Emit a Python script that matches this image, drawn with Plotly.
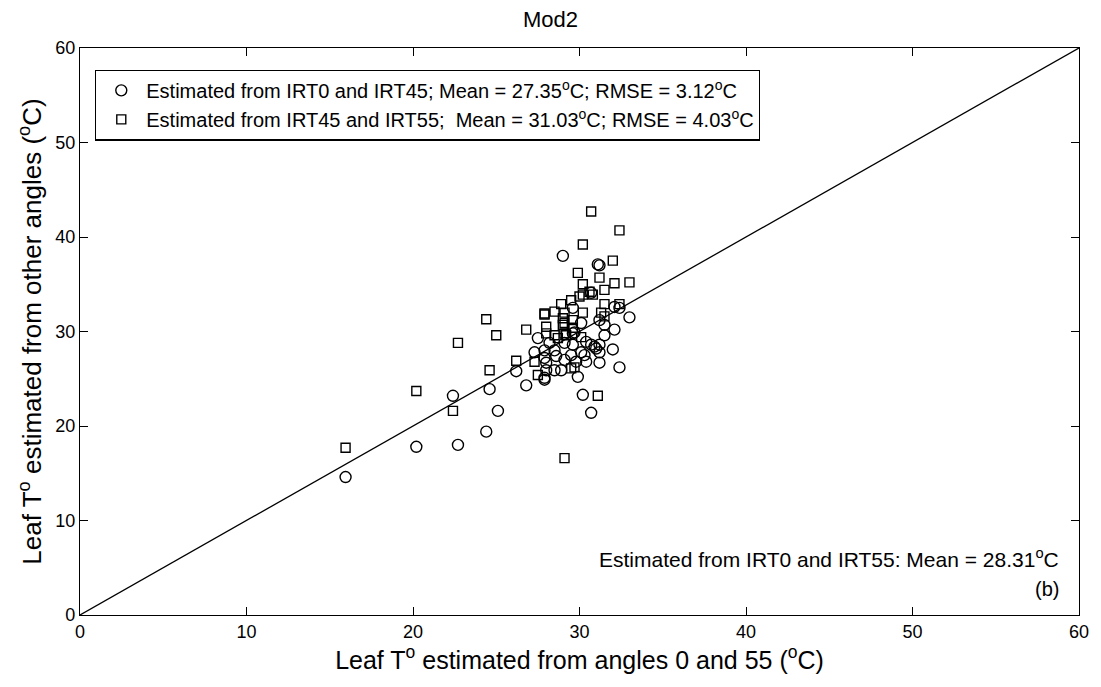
import plotly.graph_objects as go

# Circles: Estimated from IRT0 and IRT45
circ_x = [15.95, 20.2, 22.4, 22.7, 24.6, 25.1, 24.4,
          26.2, 26.8, 27.3, 27.5, 27.9, 29.9, 30.2, 30.7,
          29.0, 31.1, 31.2, 32.1, 30.7, 32.4, 33.0, 29.6, 31.2, 32.1, 31.5, 30.1,
          29.6, 29.1, 29.6, 30.7, 31.2, 30.9, 31.2, 32.0, 30.1, 29.5, 29.1, 29.8,
          30.4, 28.9, 31.2, 32.4, 31.5, 29.7, 30.4, 28.2, 27.9, 28.5, 28.0, 27.9,
          28.0, 28.5, 27.9, 31.0, 30.3, 28.6]
circ_y = [14.6, 17.8, 23.2, 18.0, 23.9, 21.6, 19.4,
          25.8, 24.3, 27.8, 29.3, 24.9, 25.2, 23.3, 21.4,
          38.0, 37.1, 37.0, 32.6, 34.1, 32.5, 31.5, 32.5, 31.2, 30.2, 29.6, 30.9,
          29.8, 28.8, 28.6, 28.6, 28.6, 28.4, 27.8, 28.1, 27.8, 27.5, 27.0, 26.8,
          26.8, 25.9, 26.7, 26.2, 30.7, 29.9, 28.9, 28.8, 28.0, 28.0, 26.7, 27.2,
          25.9, 25.9, 25.1, 28.2, 27.5, 27.4]

# Squares: Estimated from IRT45 and IRT55
sq_x = [15.95, 20.2, 22.4, 24.4, 25.0, 22.7, 24.6,
        30.2, 29.9, 30.2, 26.8, 27.9, 26.2, 27.3, 27.5, 29.1,
        30.7, 32.4, 32.0, 31.2, 32.1, 33.0, 31.5, 30.6, 30.8, 30.2,
        28.9, 29.5, 30.0, 31.5, 32.4, 30.2, 29.1, 31.3, 31.5, 29.6, 29.1, 29.6,
        29.1, 28.7, 27.9, 28.5, 29.0, 29.0, 28.0, 28.0, 28.5, 29.2, 30.1, 29.5,
        29.7, 31.1]
sq_y = [17.7, 23.7, 21.6, 31.3, 29.6, 28.8, 25.9,
        39.2, 36.2, 35.0, 30.2, 31.9, 26.9, 26.8, 25.4, 16.6,
        42.7, 40.7, 37.5, 35.7, 35.1, 35.2, 34.4, 34.2, 33.9, 33.9,
        32.9, 33.3, 33.7, 32.9, 32.9, 32.0, 32.0, 32.0, 31.6, 31.2, 30.9, 30.4,
        29.8, 29.3, 31.8, 32.1, 31.4, 30.7, 30.5, 29.8, 29.6, 29.6, 29.4, 26.1,
        26.2, 23.2]

line_x = [0, 60]
line_y = [0, 60]

tick_vals = [0, 10, 20, 30, 40, 50, 60]

FONT = "Liberation Sans, Arial, sans-serif"

fig = go.Figure()
fig.add_trace(go.Scatter(x=line_x, y=line_y, mode="lines",
                         line=dict(color="black", width=1.3), showlegend=False,
                         hoverinfo="skip"))
fig.add_trace(go.Scatter(
    x=circ_x, y=circ_y, mode="markers",
    name="Estimated from IRT0 and IRT45; Mean = 27.35<sup>o</sup>C; RMSE = 3.12<sup>o</sup>C",
    marker=dict(symbol="circle-open", size=11, color="black", line=dict(width=1.4))))
fig.add_trace(go.Scatter(
    x=sq_x, y=sq_y, mode="markers",
    name="Estimated from IRT45 and IRT55;  Mean = 31.03<sup>o</sup>C; RMSE = 4.03<sup>o</sup>C",
    marker=dict(symbol="square-open", size=9, color="black", line=dict(width=1.4))))

axis_common = dict(range=[0, 60], tickvals=tick_vals, ticks="inside", ticklen=8,
                   tickcolor="black", showline=True, linecolor="black", linewidth=1.3,
                   mirror="ticks", showgrid=False, zeroline=False,
                   tickfont=dict(size=18, family=FONT, color="black"))

fig.update_layout(
    width=1101, height=687,
    margin=dict(l=80, r=13, t=48, b=72),
    plot_bgcolor="white", paper_bgcolor="white",
    font=dict(family=FONT, color="black"),
    title=dict(text="Mod2", x=0.5, xanchor="center", y=0.972, yanchor="middle",
               font=dict(size=22, family=FONT, color="black")),
    xaxis=dict(**axis_common,
               title=dict(text="Leaf T<sup>o</sup> estimated from angles 0 and 55 (<sup>o</sup>C)",
                          font=dict(size=25, family=FONT), standoff=10)),
    yaxis=dict(**axis_common,
               title=dict(text="Leaf T<sup>o</sup> estimated from other angles (<sup>o</sup>C)",
                          font=dict(size=26, family=FONT), standoff=6)),
    legend=dict(x=0.015, y=0.962, xanchor="left", yanchor="top",
                bordercolor="black", borderwidth=1.3, bgcolor="white",
                font=dict(size=20, family=FONT, color="black"),
                tracegroupgap=0, itemwidth=40),
    annotations=[
        dict(text="Estimated from IRT0 and IRT55: Mean = 28.31<sup>o</sup>C",
             xref="paper", yref="paper", x=0.982, y=0.1, xanchor="right", yanchor="middle",
             showarrow=False, font=dict(size=21, family=FONT, color="black")),
        dict(text="(b)", xref="paper", yref="paper", x=0.982, y=0.046,
             xanchor="right", yanchor="middle", showarrow=False,
             font=dict(size=20, family=FONT, color="black")),
    ],
)

fig.write_html("out.html")
